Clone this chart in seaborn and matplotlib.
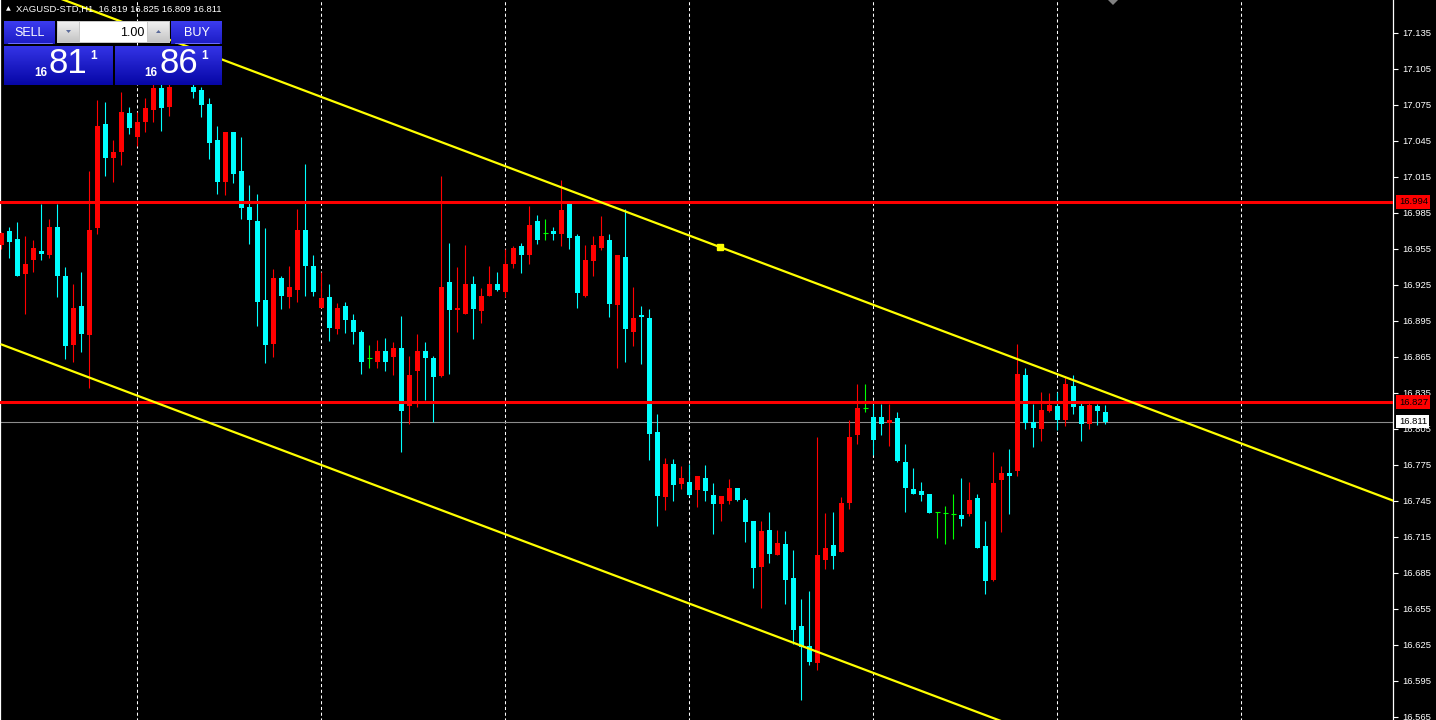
import numpy as np
import matplotlib
matplotlib.use("Agg")
import matplotlib.pyplot as plt
import matplotlib.transforms as mtrans
from matplotlib.patches import Rectangle, Polygon
import seaborn as sns

# ---------------- data ----------------
opens = [16.958, 16.970, 16.963, 16.934, 16.946, 16.953, 16.950, 16.973, 16.932, 16.875,
         16.907, 16.883, 16.972, 17.059, 17.031, 17.036, 17.068, 17.048, 17.061, 17.071,
         17.089, 17.073, 17.095, 17.112, 17.090, 17.087, 17.076, 17.046, 17.011, 17.052,
         17.020, 16.990, 16.978, 16.912, 16.876, 16.931, 16.915, 16.921, 16.971, 16.941,
         16.906, 16.915, 16.888, 16.907, 16.896, 16.886, 16.864, 16.861, 16.870, 16.865,
         16.872, 16.824, 16.853, 16.870, 16.864, 16.849, 16.927, 16.904, 16.901, 16.926,
         16.903, 16.916, 16.926, 16.919, 16.942, 16.957, 16.950, 16.978, 16.968, 16.970,
         16.967, 16.993, 16.966, 16.916, 16.945, 16.956, 16.962, 16.908, 16.948, 16.886,
         16.900, 16.897, 16.802, 16.748, 16.776, 16.759, 16.761, 16.754, 16.764, 16.750,
         16.742, 16.745, 16.756, 16.746, 16.728, 16.690, 16.721, 16.700, 16.709, 16.681,
         16.641, 16.624, 16.610, 16.696, 16.708, 16.702, 16.743, 16.800, 16.822, 16.815,
         16.815, 16.810, 16.814, 16.777, 16.755, 16.753, 16.751, 16.736, 16.735, 16.734,
         16.733, 16.734, 16.747, 16.707, 16.679, 16.762, 16.768, 16.770, 16.850, 16.811,
         16.805, 16.820, 16.824, 16.812, 16.841, 16.824, 16.809, 16.824, 16.819]
highs = [16.969, 16.973, 16.977, 16.966, 16.962, 16.992, 16.980, 16.992, 16.940, 16.926,
         16.936, 17.020, 17.079, 17.077, 17.046, 17.086, 17.073, 17.069, 17.081, 17.096,
         17.096, 17.097, 17.120, 17.118, 17.096, 17.090, 17.081, 17.057, 17.052, 17.052,
         17.048, 17.008, 17.001, 16.972, 16.938, 16.932, 16.941, 16.988, 17.026, 16.950,
         16.936, 16.926, 16.910, 16.911, 16.901, 16.887, 16.875, 16.879, 16.881, 16.877,
         16.899, 16.866, 16.884, 16.877, 16.866, 17.016, 16.960, 16.940, 16.958, 16.932,
         16.922, 16.941, 16.936, 16.955, 16.957, 16.960, 16.991, 16.983, 16.980, 16.973,
         17.012, 16.994, 16.967, 16.958, 16.966, 16.982, 16.967, 16.950, 16.988, 16.923,
         16.907, 16.905, 16.817, 16.781, 16.780, 16.774, 16.776, 16.766, 16.775, 16.760,
         16.749, 16.763, 16.756, 16.747, 16.728, 16.728, 16.736, 16.721, 16.720, 16.704,
         16.663, 16.670, 16.798, 16.735, 16.736, 16.748, 16.812, 16.842, 16.842, 16.826,
         16.826, 16.826, 16.819, 16.792, 16.772, 16.761, 16.751, 16.736, 16.741, 16.751,
         16.764, 16.761, 16.751, 16.728, 16.786, 16.774, 16.788, 16.876, 16.856, 16.826,
         16.836, 16.835, 16.836, 16.848, 16.850, 16.827, 16.827, 16.826, 16.825]
lows = [16.955, 16.947, 16.932, 16.901, 16.936, 16.946, 16.947, 16.915, 16.863, 16.861,
        16.869, 16.839, 16.967, 17.016, 17.011, 17.025, 17.051, 17.041, 17.052, 17.061,
        17.053, 17.066, 17.093, 17.094, 17.081, 17.065, 17.030, 17.001, 17.000, 17.010,
        16.980, 16.959, 16.891, 16.860, 16.865, 16.905, 16.906, 16.911, 16.916, 16.916,
        16.906, 16.878, 16.884, 16.885, 16.876, 16.851, 16.856, 16.856, 16.853, 16.850,
        16.786, 16.809, 16.823, 16.829, 16.811, 16.848, 16.851, 16.886, 16.901, 16.880,
        16.893, 16.916, 16.920, 16.915, 16.939, 16.935, 16.942, 16.959, 16.962, 16.962,
        16.957, 16.955, 16.906, 16.915, 16.932, 16.954, 16.898, 16.856, 16.861, 16.874,
        16.859, 16.779, 16.724, 16.737, 16.745, 16.755, 16.749, 16.740, 16.745, 16.717,
        16.728, 16.742, 16.745, 16.711, 16.672, 16.656, 16.693, 16.700, 16.659, 16.626,
        16.579, 16.608, 16.604, 16.688, 16.688, 16.702, 16.738, 16.792, 16.819, 16.783,
        16.800, 16.791, 16.777, 16.736, 16.751, 16.745, 16.735, 16.714, 16.709, 16.713,
        16.724, 16.732, 16.706, 16.667, 16.678, 16.719, 16.734, 16.766, 16.805, 16.790,
        16.795, 16.819, 16.804, 16.807, 16.817, 16.795, 16.805, 16.808, 16.809]
closes = [16.968, 16.961, 16.932, 16.942, 16.956, 16.951, 16.973, 16.932, 16.874, 16.906,
          16.884, 16.971, 17.057, 17.031, 17.036, 17.069, 17.056, 17.061, 17.072, 17.089,
          17.072, 17.090, 17.112, 17.098, 17.086, 17.075, 17.043, 17.011, 17.052, 17.017,
          16.989, 16.979, 16.911, 16.875, 16.931, 16.916, 16.923, 16.971, 16.941, 16.919,
          16.914, 16.889, 16.906, 16.896, 16.886, 16.861, 16.864, 16.870, 16.861, 16.872,
          16.820, 16.850, 16.870, 16.864, 16.848, 16.923, 16.904, 16.906, 16.926, 16.905,
          16.916, 16.926, 16.921, 16.942, 16.956, 16.950, 16.975, 16.962, 16.968, 16.967,
          16.987, 16.964, 16.918, 16.946, 16.958, 16.966, 16.909, 16.950, 16.888, 16.897,
          16.898, 16.801, 16.749, 16.776, 16.758, 16.764, 16.750, 16.766, 16.753, 16.742,
          16.749, 16.756, 16.746, 16.727, 16.689, 16.720, 16.701, 16.710, 16.679, 16.637,
          16.623, 16.611, 16.700, 16.706, 16.699, 16.743, 16.798, 16.822, 16.822, 16.796,
          16.809, 16.812, 16.778, 16.756, 16.751, 16.750, 16.735, 16.736, 16.735, 16.734,
          16.730, 16.746, 16.706, 16.678, 16.760, 16.768, 16.766, 16.851, 16.810, 16.806,
          16.821, 16.825, 16.812, 16.842, 16.823, 16.809, 16.825, 16.820, 16.811]

separators = [17, 40, 63, 86, 109, 132, 155]          # day separator bars
hlines_red = [16.994, 16.827]                          # horizontal levels
bid_price = 16.811
channel_x = [0, 176]                                   # channel anchor bars
channel_upper = [17.182, 16.740]                       # upper channel prices
channel_width = 0.3067
channel_marker = (89.84, 16.9565)
price_ticks = [16.565, 16.595, 16.625, 16.655, 16.685, 16.715, 16.745, 16.775, 16.805,
               16.835, 16.865, 16.895, 16.925, 16.955, 16.985, 17.015, 17.045, 17.075,
               17.105, 17.135]
header = "XAGUSD-STD,H1  16.819 16.825 16.809 16.811"

# ---------------- style ----------------
sns.set_theme(style="dark", rc={"axes.facecolor": "black", "figure.facecolor": "black"})
plt.rcParams["font.family"] = ["Liberation Sans", "DejaVu Sans"]

W, H = 1436, 720
fig = plt.figure(figsize=(W / 100, H / 100), dpi=100)
ax = fig.add_axes([0, 0, 1393 / W, 1])
ax.set_facecolor("black")

O = np.array(opens); Hh = np.array(highs); L = np.array(lows); C = np.array(closes)
x = np.arange(len(O))
cols = np.where(C > O, "#ff0000", np.where(C < O, "#00ffff", "#00ff00"))

# separators
ax.vlines(separators, 16.0, 18.0, colors="white", lw=0.75, linestyles=(0, (3, 2.5)), zorder=1)
# bid line
ax.axhline(bid_price, color="#8c8c8c", lw=0.8, zorder=1.5)
# wicks
ax.vlines(x, L, Hh, colors=cols, lw=0.8, zorder=2.5)
# bodies
lo = np.minimum(O, C)
ht = np.maximum(np.abs(C - O), 0.0011)
body = ~(C == O)
ax.bar(x[body], ht[body], bottom=lo[body], width=0.62, color=cols[body], linewidth=0, zorder=3)
doji = C == O
ax.hlines(C[doji], x[doji] - 0.33, x[doji] + 0.33, colors="#00ff00", lw=0.8, zorder=3)

# red levels
for lv in hlines_red:
    ax.axhline(lv, color="#ff0000", lw=2.2, zorder=4)

# channel
ux = np.array(channel_x, dtype=float)
uy = np.array(channel_upper)
sns.lineplot(x=ux, y=uy, ax=ax, color="#ffff00", lw=1.6, zorder=5)
sns.lineplot(x=ux, y=uy - channel_width, ax=ax, color="#ffff00", lw=1.6, zorder=5)
ax.plot([channel_marker[0]], [channel_marker[1]], marker="s", ms=4, color="#ffff00",
        mec="#ffff00", zorder=6)

ax.set_xlim(-0.1625, 173.96)
ax.set_ylim(16.5623, 17.1623)
ax.grid(False)
ax.set_xticks([])
ax.yaxis.tick_right()
ax.set_yticks(price_ticks)
ax.set_yticklabels([f"{t:.3f}" for t in price_ticks])
ax.tick_params(axis="y", colors="white", length=3.5, width=0.8, pad=3, labelsize=6.8,
               labelcolor="white", right=True, left=False)
for s in ["top", "bottom"]:
    ax.spines[s].set_visible(False)
for s in ["left", "right"]:
    ax.spines[s].set_visible(True)
    ax.spines[s].set_color("white")
    ax.spines[s].set_linewidth(0.9)

# price label boxes on the axis
trans = mtrans.blended_transform_factory(ax.transAxes, ax.transData)
for lv in hlines_red:
    ax.text(1.0042, lv, f"{lv:.3f}", transform=trans, ha="left", va="center", fontsize=6.8,
            color="#000000", clip_on=False, zorder=20,
            bbox=dict(boxstyle="square,pad=0.25", fc="#ff0000", ec="none"))
ax.text(1.0042, bid_price, f"{bid_price:.3f}", transform=trans, ha="left", va="center",
        fontsize=6.8, color="#000000", clip_on=False, zorder=20,
        bbox=dict(boxstyle="square,pad=0.25", fc="white", ec="none"))

# ---------------- overlay: header + trade panel ----------------
ov = fig.add_axes([0, 0, 1, 1], zorder=10)
ov.patch.set_alpha(0)
ov.axis("off")


def grad(x0, y0, x1, y1, top, bottom, z=11):
    g = np.linspace(0, 1, 64)[:, None, None]
    c0 = np.array(matplotlib.colors.to_rgb(top))[None, None, :]
    c1 = np.array(matplotlib.colors.to_rgb(bottom))[None, None, :]
    img = c0 * (1 - g) + c1 * g
    img = np.repeat(img, 2, axis=1)
    ov.imshow(img, extent=(x0, x1, y1, y0), aspect="auto", zorder=z, interpolation="bilinear")


ov.text(8, 9, "▲", fontsize=4.5, color="white", ha="center", va="center",
        family=["DejaVu Sans"], zorder=12)
ov.text(16, 9.5, header, fontsize=6.8, color="white", ha="left", va="center", zorder=12)

# SELL / BUY buttons
grad(4, 21, 55, 44, "#3c3cf0", "#1c1cc4")
grad(171, 21, 222, 44, "#3c3cf0", "#1c1cc4")
ov.plot([8, 52], [43, 43], color="#7070ff", lw=0.7, zorder=12)
ov.plot([175, 219], [43, 43], color="#7070ff", lw=0.7, zorder=12)
ov.text(29.5, 32.5, "SELL", fontsize=9, color="white", ha="center", va="center", zorder=13)
ov.text(196.5, 32.5, "BUY", fontsize=9, color="white", ha="center", va="center", zorder=13)

# lot spinner
ov.add_patch(Rectangle((57, 21), 113, 22, fc="#c8c8c8", ec="none", zorder=11))
grad(58, 22, 79, 42, "#f0f0f0", "#c4c4c4", z=12)
grad(148, 22, 169, 42, "#f0f0f0", "#c4c4c4", z=12)
ov.add_patch(Rectangle((80, 22), 67, 20, fc="white", ec="none", zorder=12))
ov.add_patch(Polygon([[66, 30], [71, 30], [68.5, 33]], closed=True, fc="#5a6a9a", ec="none", zorder=13))
ov.add_patch(Polygon([[156, 33], [161, 33], [158.5, 30]], closed=True, fc="#5a6a9a", ec="none", zorder=13))
ov.text(144, 32.5, "1.00", fontsize=9, color="black", ha="right", va="center", zorder=13)

# price boxes
grad(4, 46, 113, 85, "#3434e6", "#0606a6")
grad(115, 46, 222, 85, "#3434e6", "#0606a6")
ov.text(41, 72.5, "16", fontsize=8.5, fontweight="bold", color="white", ha="center", va="center", zorder=13)
ov.text(67.5, 63.5, "81", fontsize=25, color="white", ha="center", va="center", zorder=13)
ov.text(94, 56, "1", fontsize=8.5, fontweight="bold", color="white", ha="center", va="center", zorder=13)
ov.text(151, 72.5, "16", fontsize=8.5, fontweight="bold", color="white", ha="center", va="center", zorder=13)
ov.text(178.5, 63.5, "86", fontsize=25, color="white", ha="center", va="center", zorder=13)
ov.text(205, 56, "1", fontsize=8.5, fontweight="bold", color="white", ha="center", va="center", zorder=13)

# chart-shift marker
ov.add_patch(Polygon([[1108, 0], [1118, 0], [1113, 5]], closed=True, fc="#808080", ec="none", zorder=12))

ov.set_xlim(0, W)
ov.set_ylim(H, 0)

fig.savefig("out.png", dpi=100, facecolor="black")
